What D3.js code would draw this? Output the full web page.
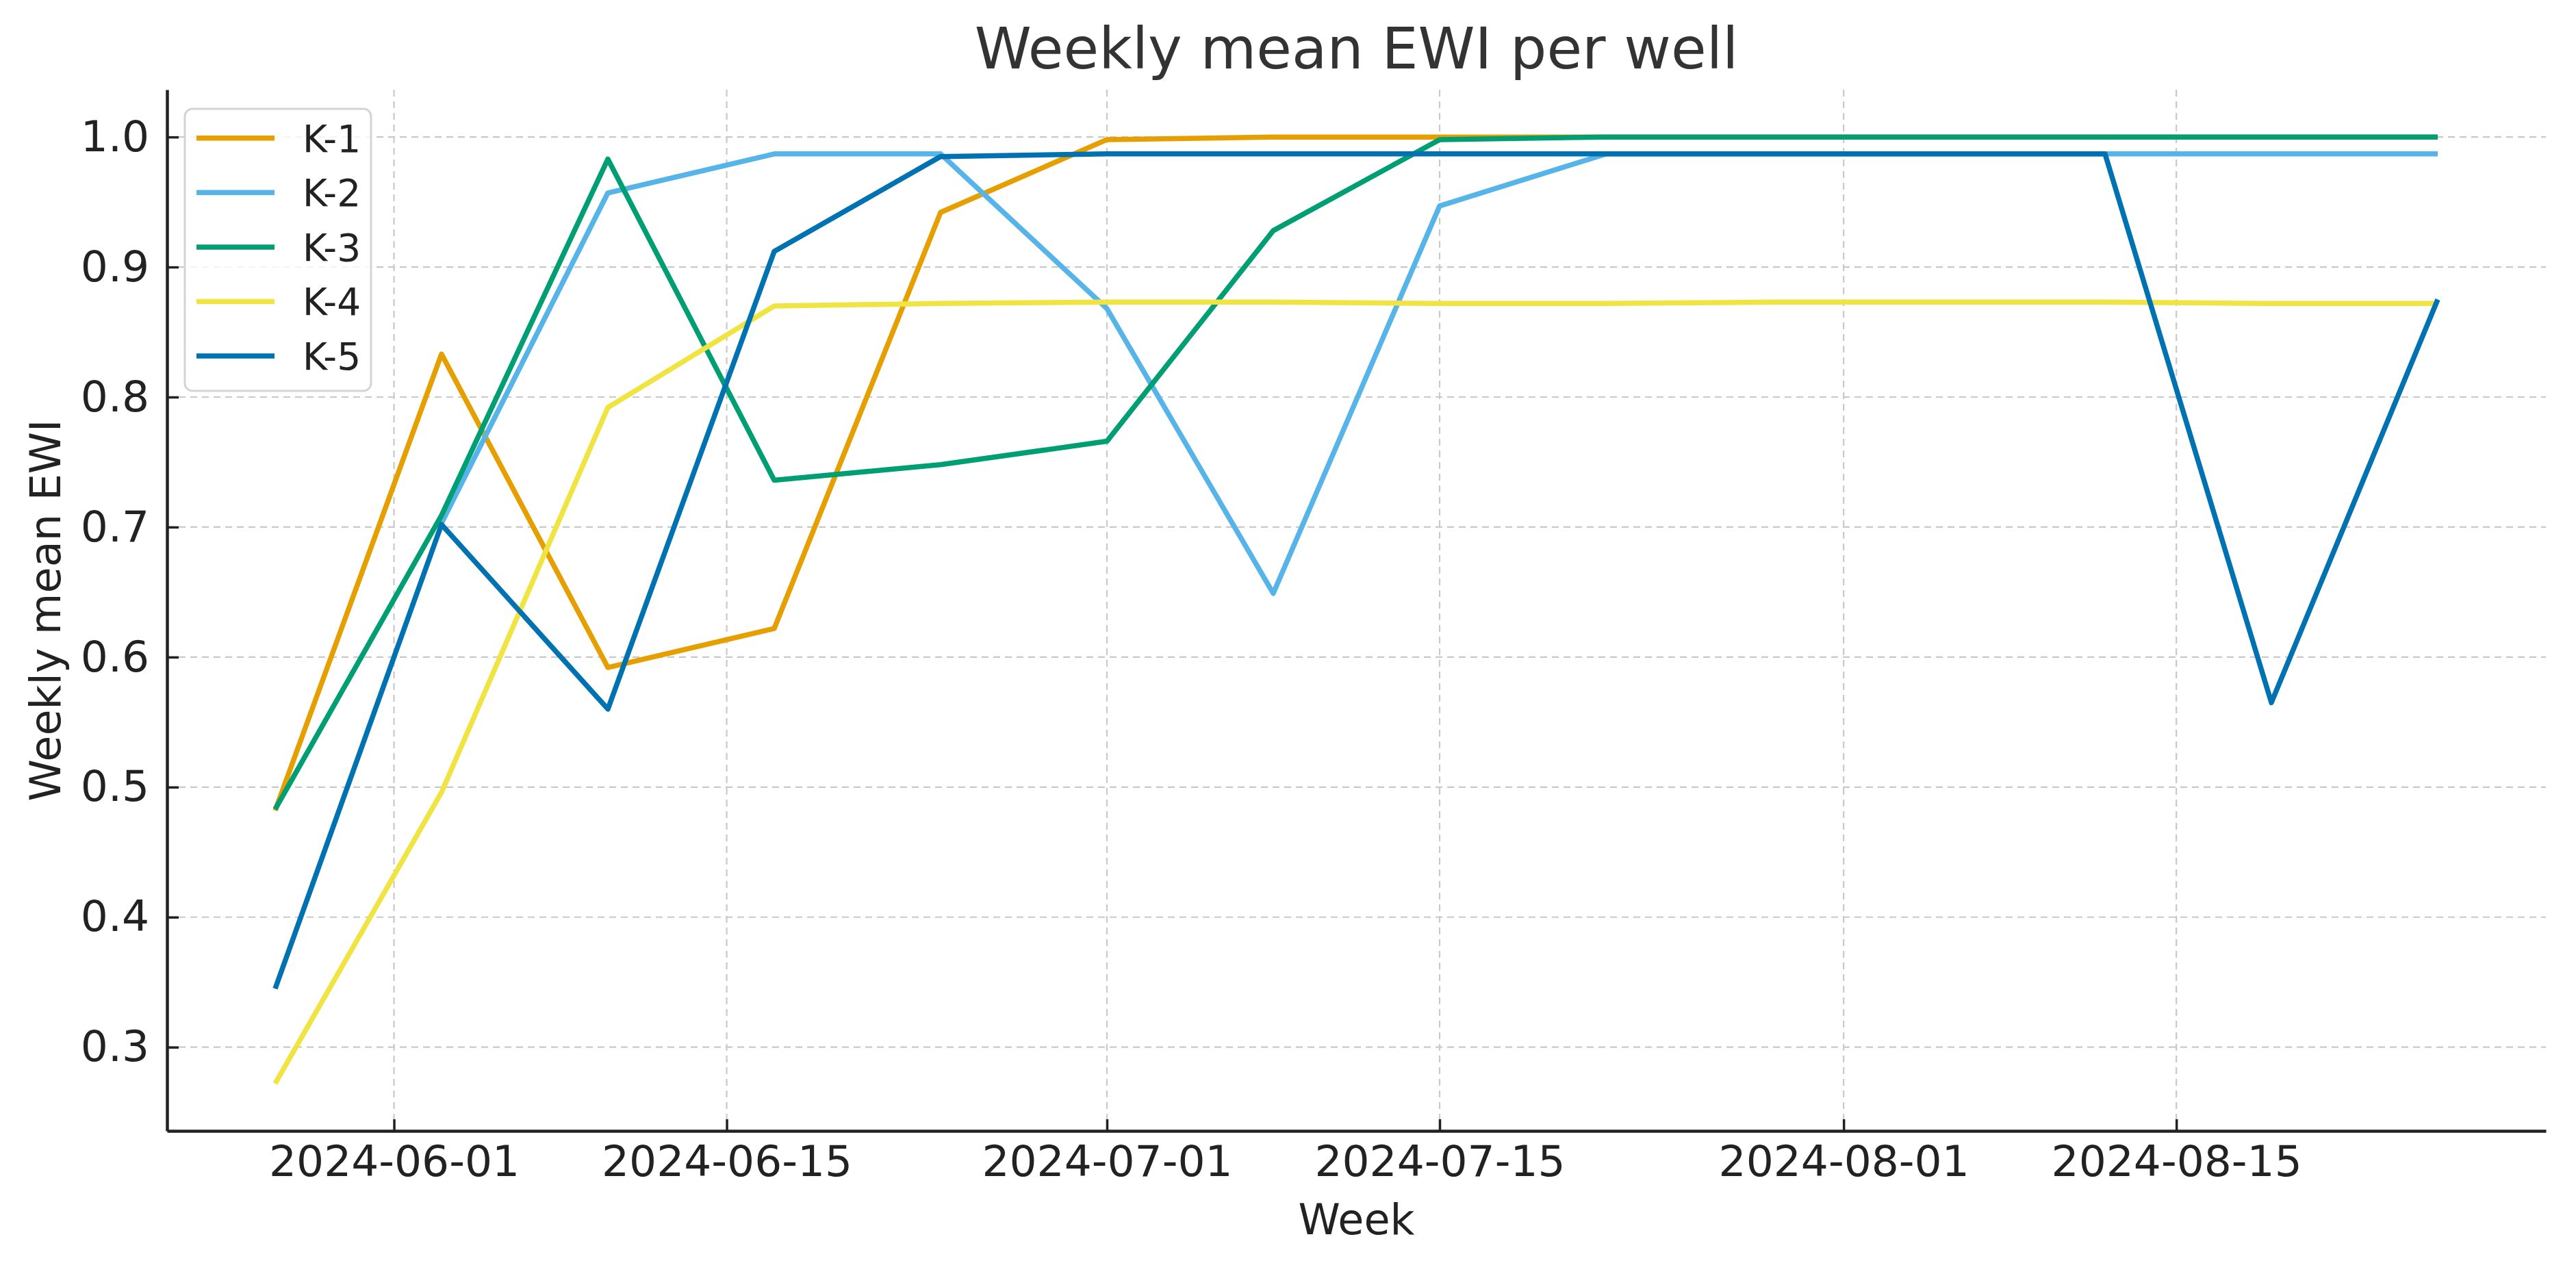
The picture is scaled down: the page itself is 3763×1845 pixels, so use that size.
<!DOCTYPE html>
<html>
<head>
<meta charset="utf-8">
<script src="https://cdn.jsdelivr.net/npm/d3@7"></script>
<style>
  html, body { margin: 0; padding: 0; background: #fff; }
  svg { display: block; font-family: "DejaVu Sans", sans-serif; }
</style>
</head>
<body>
<svg id="chart" width="3763" height="1845"></svg>
<script>
// ---- data ----
const weeks = ["2024-05-27","2024-06-03","2024-06-10","2024-06-17","2024-06-24","2024-07-01","2024-07-08",
               "2024-07-15","2024-07-22","2024-07-29","2024-08-05","2024-08-12","2024-08-19","2024-08-26"];
const wells = ["K-1","K-2","K-3","K-4","K-5"];
const k1 = [0.482,0.833,0.592,0.622,0.942,0.998,1.000,1.000,1.000,1.000,1.000,1.000,1.000,1.000];
const k2 = [null, 0.703,0.957,0.987,0.987,0.868,0.649,0.947,0.987,0.987,0.987,0.987,0.987,0.987];
const k3 = [0.483,0.709,0.983,0.736,0.748,0.766,0.928,0.998,1.000,1.000,1.000,1.000,1.000,1.000];
const k4 = [0.272,0.496,0.792,0.870,0.872,0.873,0.873,0.872,0.872,0.873,0.873,0.873,0.872,0.872];
const k5 = [0.345,0.702,0.560,0.912,0.985,0.987,0.987,0.987,0.987,0.987,0.987,0.987,0.565,0.875];
const seriesValues = [k1, k2, k3, k4, k5];
const colors = ["#E69F00","#56B4E9","#009E73","#F0E442","#0072B2"];
const xTickLabels = ["2024-06-01","2024-06-15","2024-07-01","2024-07-15","2024-08-01","2024-08-15"];
const yTickValues = [0.3,0.4,0.5,0.6,0.7,0.8,0.9,1.0];
const titleText = "Weekly mean EWI per well";
const xLabel = "Week";
const yLabel = "Weekly mean EWI";

// ---- layout ----
const W = 3763, H = 1845;
const margin = {left: 244, right: 44, top: 131, bottom: 193};
const iw = W - margin.left - margin.right;
const ih = H - margin.top - margin.bottom;

const parse = d3.utcParse("%Y-%m-%d");
const dates = weeks.map(parse);

const svg = d3.select("#chart");
const g = svg.append("g").attr("transform", `translate(${margin.left},${margin.top})`);

// scales with 5% padding (matplotlib-like margins)
const xExt = d3.extent(dates);
const xPad = (xExt[1] - xExt[0]) * 0.05;
const x = d3.scaleUtc()
  .domain([new Date(+xExt[0] - xPad), new Date(+xExt[1] + xPad)])
  .range([0, iw]);

const allVals = seriesValues.flat().filter(v => v != null);
const yExt = d3.extent(allVals);
const yPad = (yExt[1] - yExt[0]) * 0.05;
const y = d3.scaleLinear()
  .domain([yExt[0] - yPad, yExt[1] + yPad])
  .range([ih, 0]);

const xTicks = xTickLabels.map(parse);

// ---- grid ----
const grid = g.append("g").attr("class", "grid");
grid.selectAll("line.gx").data(xTicks).join("line")
  .attr("x1", d => x(d)).attr("x2", d => x(d))
  .attr("y1", 0).attr("y2", ih)
  .attr("stroke", "#c9c9c9").attr("stroke-width", 2.2)
  .attr("stroke-dasharray", "10,7");
grid.selectAll("line.gy").data(yTickValues).join("line")
  .attr("x1", 0).attr("x2", iw)
  .attr("y1", d => y(d)).attr("y2", d => y(d))
  .attr("stroke", "#c9c9c9").attr("stroke-width", 2.2)
  .attr("stroke-dasharray", "10,7");

// ---- lines ----
const line = d3.line()
  .defined(d => d.v != null)
  .x(d => x(d.date))
  .y(d => y(d.v));

seriesValues.forEach((vals, i) => {
  const pts = vals.map((v, j) => ({date: dates[j], v}));
  g.append("path")
    .datum(pts)
    .attr("fill", "none")
    .attr("stroke", colors[i])
    .attr("stroke-width", 7.5)
    .attr("stroke-linejoin", "round")
    .attr("stroke-linecap", "butt")
    .attr("d", line);
});

// ---- axes ----
const xAxis = d3.axisBottom(x)
  .tickValues(xTicks)
  .tickFormat(d3.utcFormat("%Y-%m-%d"))
  .tickSizeInner(-17).tickSizeOuter(0).tickPadding(40);
const gx = g.append("g").attr("transform", `translate(0,${ih})`).call(xAxis);
gx.select(".domain").attr("stroke", "#222").attr("stroke-width", 4.5);
gx.selectAll(".tick line").attr("stroke", "#222").attr("stroke-width", 3.5);
gx.selectAll(".tick text")
  .attr("fill", "#222")
  .attr("font-size", 63)
  .attr("font-family", "DejaVu Sans")
  .attr("dy", "0.71em")
  .attr("y", 21);

const yAxis = d3.axisLeft(y)
  .tickValues(yTickValues)
  .tickFormat(d3.format(".1f"))
  .tickSizeInner(-17).tickSizeOuter(0).tickPadding(26);
const gy = g.append("g").call(yAxis);
gy.select(".domain").attr("stroke", "#222").attr("stroke-width", 4.5);
gy.selectAll(".tick line").attr("stroke", "#222").attr("stroke-width", 3.5);
gy.selectAll(".tick text")
  .attr("fill", "#222")
  .attr("font-size", 63)
  .attr("font-family", "DejaVu Sans")
  .attr("x", -26);

// ---- labels ----
svg.append("text")
  .attr("x", margin.left + iw / 2).attr("y", 100)
  .attr("text-anchor", "middle")
  .attr("font-size", 84).attr("fill", "#333")
  .text(titleText);

svg.append("text")
  .attr("x", margin.left + iw / 2).attr("y", 1803)
  .attr("text-anchor", "middle")
  .attr("font-size", 62).attr("fill", "#222")
  .text(xLabel);

svg.append("text")
  .attr("transform", `translate(88,${margin.top + ih / 2}) rotate(-90)`)
  .attr("text-anchor", "middle")
  .attr("font-size", 62).attr("fill", "#222")
  .text(yLabel);

// ---- legend ----
const lg = svg.append("g").attr("transform", "translate(270,159)");
lg.append("rect")
  .attr("x", 0).attr("y", 0).attr("width", 272).attr("height", 412)
  .attr("rx", 11).attr("ry", 11)
  .attr("fill", "#fff").attr("fill-opacity", 0.8)
  .attr("stroke", "#d4d4d4").attr("stroke-width", 3);
const rows = lg.selectAll("g.row").data(wells).join("g")
  .attr("transform", (d, i) => `translate(0,${42.7 + i * 79.6})`);
rows.append("line")
  .attr("x1", 17).attr("x2", 131).attr("y1", 0).attr("y2", 0)
  .attr("stroke", (d, i) => colors[i]).attr("stroke-width", 7.5);
rows.append("text")
  .attr("x", 172).attr("y", 0).attr("dy", "0.36em")
  .attr("font-size", 55).attr("fill", "#222")
  .text(d => d);
</script>
</body>
</html>
